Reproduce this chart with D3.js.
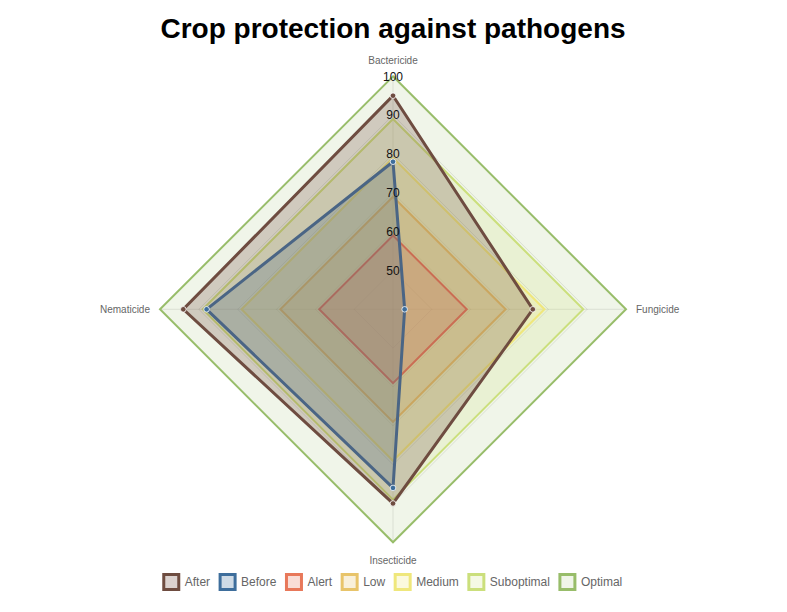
<!DOCTYPE html>
<html><head><meta charset="utf-8">
<script src="https://cdn.jsdelivr.net/npm/d3@7"></script>
<style>body{margin:0;background:#fff}svg{display:block;font-family:"Liberation Sans",Arial,Helvetica,sans-serif}</style>
</head><body><svg id="c" width="787" height="612"></svg>
<script>
const axes = ["Bactericide","Fungicide","Insecticide","Nematicide"];
const seriesNames = ["After","Before","Alert","Low","Medium","Suboptimal","Optimal"];
const after = [95, 76, 90, 94];
const before = [78, 43, 86, 88];
const alert = [59, 59, 59, 59];
const low = [69, 69, 69, 69];
const medium = [79, 79, 79, 79];
const suboptimal = [89, 89, 89, 89];
const optimal = [100, 100, 100, 100];
const seriesValues = [after, before, alert, low, medium, suboptimal, optimal];
const strokeColors = ["#6e4c40","#3e6e9c","#e8785a","#e8c46a","#efe77c","#cbdf7c","#98bd6a"];
const fillAlpha = [0.25,0.25,0.25,0.25,0.25,0.2,0.15];
const lineWidths = [3,3,2,2,2,2,2];
const showPoints = [true,true,false,false,false,false,false];
const tickValues = [50,60,70,80,90,100];
const title = "Crop protection against pathogens";

const svg = d3.select("#c");
const cx = 393, cy = 309.3, R = 233;
const r = d3.scaleLinear().domain([40,100]).range([0,R]);
const ang = d3.scalePoint().domain(axes).range([0, 2*Math.PI*3/4]);
const pt = (a, v) => { const t = ang(a) - Math.PI/2; return [cx + r(v)*Math.cos(t), cy + r(v)*Math.sin(t)]; };
const line = d3.line();

svg.append("text").attr("x", cx).attr("y", 38).attr("text-anchor","middle")
  .attr("font-size", 28).attr("font-weight","bold").attr("fill","#000").text(title);

// grid
const g = svg.append("g");
tickValues.forEach(v => {
  g.append("path").attr("d", line(axes.map(a=>pt(a,v)).concat([pt(axes[0],v)])))
   .attr("fill","none").attr("stroke","rgba(0,0,0,0.1)").attr("stroke-width",1);
});
axes.forEach(a => {
  const [x,y] = pt(a,100);
  g.append("line").attr("x1",cx).attr("y1",cy).attr("x2",x).attr("y2",y).attr("stroke","rgba(0,0,0,0.1)");
});

// series, drawn in reverse order
const d = svg.append("g");
for (let i = seriesNames.length-1; i >= 0; i--) {
  const pts = axes.map((a,j)=>pt(a, seriesValues[i][j]));
  const c = d3.color(strokeColors[i]); c.opacity = fillAlpha[i];
  d.append("path").attr("d", line(pts)+"Z").attr("fill", c.formatRgb())
   .attr("stroke", strokeColors[i]).attr("stroke-width", lineWidths[i]).attr("stroke-linejoin","miter");
}
for (let i = seriesNames.length-1; i >= 0; i--) {
  if (!showPoints[i]) continue;
  axes.forEach((a,j)=>{
    const [x,y] = pt(a, seriesValues[i][j]);
    const c = d3.color(strokeColors[i]);
    d.append("circle").attr("cx",x).attr("cy",y).attr("r",2.8).attr("fill", c.formatRgb())
     .attr("stroke","rgba(255,255,255,0.8)").attr("stroke-width",1);
  });
}

// tick labels
tickValues.forEach(v => {
  svg.append("text").attr("x", cx).attr("y", cy - r(v)).attr("dy","0.35em")
   .attr("text-anchor","middle").attr("font-size",12).attr("fill","#111").text(v);
});

// point labels
const lab = svg.append("g").attr("font-size",10).attr("fill","#666");
axes.forEach(a => {
  const [x,y] = pt(a,100);
  const t = ang(a);
  let anchor = "middle", dx = 0, dy = 0;
  if (Math.abs(t) < 0.01) { dy = -16; }
  else if (Math.abs(t - Math.PI/2) < 0.01) { anchor = "start"; dx = 10; }
  else if (Math.abs(t - Math.PI) < 0.01) { dy = 18; }
  else { anchor = "end"; dx = -10; }
  lab.append("text").attr("x", x+dx).attr("y", y+dy).attr("dy","0.35em").attr("text-anchor",anchor).text(a);
});

// legend
const leg = svg.append("g");
const boxW = 15, boxH = 15, gap = 6, itemPad = 10;
const items = seriesNames.map((n,i)=>{
  const it = leg.append("g");
  const c = d3.color(strokeColors[i]); c.opacity = fillAlpha[i];
  it.append("rect").attr("x",0).attr("y",-boxH/2).attr("width",boxW).attr("height",boxH)
    .attr("fill", c.formatRgb()).attr("stroke", strokeColors[i]).attr("stroke-width", 3);
  const tx = it.append("text").attr("x", boxW+gap).attr("dy","0.35em").attr("font-size",12).attr("fill","#666").text(n);
  return {it, w: boxW + gap + tx.node().getComputedTextLength()};
});
const total = d3.sum(items, d=>d.w) + itemPad*(items.length-1);
let lx = cx - total/2;
items.forEach(d => { d.it.attr("transform", `translate(${lx},582)`); lx += d.w + itemPad; });
</script></body></html>
